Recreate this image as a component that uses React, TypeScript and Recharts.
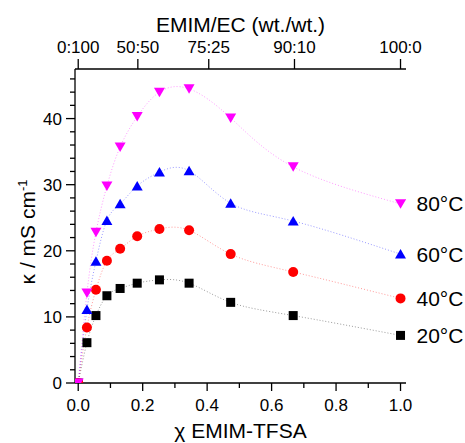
import { LineChart, Line, XAxis, YAxis } from "recharts";

// mole fraction of EMIM-TFSA
const chi = [0, 0.027, 0.055, 0.089, 0.13, 0.183, 0.252, 0.344, 0.473, 0.667, 1.0];

// conductivity, mS/cm
const k20 = [0, 6.1, 10.2, 13.2, 14.3, 15.1, 15.6, 15.1, 12.2, 10.2, 7.2];
const k40 = [0, 8.4, 14.1, 18.5, 20.3, 22.2, 23.3, 23.1, 19.5, 16.8, 12.8];
const k60 = [0, 11.1, 18.4, 24.6, 27.1, 29.8, 31.9, 32.1, 27.2, 24.5, 19.5];
const k80 = [0, 13.6, 22.8, 29.8, 35.7, 40.3, 44.0, 44.5, 40.1, 32.7, 27.1];

const seriesKeys = ["k20", "k40", "k60", "k80"];
const seriesNames = ["20°C", "40°C", "60°C", "80°C"];

const bottomTicks = [0, 0.1, 0.2, 0.3, 0.4, 0.5, 0.6, 0.7, 0.8, 0.9, 1.0];
const leftTicks = [0, 2, 4, 6, 8, 10, 12, 14, 16, 18, 20, 22, 24, 26, 28, 30, 32, 34, 36, 38, 40, 42, 44, 46];
const topTickPos = [0, 0.185, 0.405, 0.671, 1];
const topTickLabels = ["0:100", "50:50", "75:25", "90:10", "100:0"];

const data = chi.map((x, i) => ({ x, k20: k20[i], k40: k40[i], k60: k60[i], k80: k80[i] }));

const FONT = "Arial, 'Liberation Sans', sans-serif";
const colors: Record<string, string> = { k20: "#000000", k40: "#ff0000", k60: "#0000ff", k80: "#ff00ff" };
const shapes: Record<string, string> = { k20: "square", k40: "circle", k60: "up", k80: "down" };

function Marker({ cx, cy, shape, color }: any) {
  if (cx == null || cy == null) return <g />;
  if (shape === "square") return <rect x={cx - 4.5} y={cy - 4.5} width={9} height={9} fill={color} />;
  if (shape === "circle") return <circle cx={cx} cy={cy} r={5} fill={color} />;
  if (shape === "up")
    return <polygon points={`${cx - 5.5},${cy + 4.5} ${cx + 5.5},${cy + 4.5} ${cx},${cy - 5}`} fill={color} />;
  return <polygon points={`${cx - 5.5},${cy - 4.5} ${cx + 5.5},${cy - 4.5} ${cx},${cy + 5}`} fill={color} />;
}

function BottomTick({ x, y, payload }: any) {
  const v = payload.value;
  const major = Math.round(v * 10) % 2 === 0;
  return (
    <g>
      <line x1={x} y1={y} x2={x} y2={y + (major ? 8 : 5)} stroke="#000" strokeWidth={1.3} />
      {major && (
        <text x={x} y={y + 28} textAnchor="middle" fontSize={17} fontFamily={FONT} fill="#000">
          {v.toFixed(1)}
        </text>
      )}
    </g>
  );
}

function LeftTick({ x, y, payload }: any) {
  const v = payload.value;
  const major = v % 10 === 0;
  return (
    <g>
      <line x1={x} y1={y} x2={x - (major ? 9 : 5)} y2={y} stroke="#000" strokeWidth={1.3} />
      {major && (
        <text x={x - 13} y={y + 6} textAnchor="end" fontSize={17} fontFamily={FONT} fill="#000">
          {v}
        </text>
      )}
    </g>
  );
}

function TopTick({ x, y, payload }: any) {
  const i = topTickPos.indexOf(payload.value);
  return (
    <g>
      <line x1={x} y1={y} x2={x} y2={y - 10} stroke="#000" strokeWidth={1.3} />
      <text x={x} y={y - 16} textAnchor="middle" fontSize={17} fontFamily={FONT} fill="#000">
        {topTickLabels[i]}
      </text>
    </g>
  );
}

export default function App() {
  return (
    <div style={{ position: "absolute", left: 0, top: 0, background: "#fff" }}>
      <LineChart width={465} height={443} data={data} margin={{ top: 0, right: 59, bottom: 0, left: 0 }}>
        <XAxis
          dataKey="x"
          type="number"
          domain={[-0.01, 1.017]}
          ticks={bottomTicks}
          interval={0}
          allowDataOverflow
          height={60}
          tickLine={false}
          tickSize={0}
          tickMargin={0}
          axisLine={{ stroke: "#000", strokeWidth: 1.3 }}
          tick={BottomTick}
          label={(p: any) => (
            <text
              x={p.viewBox.x + p.viewBox.width / 2}
              y={p.viewBox.y + 55}
              textAnchor="middle"
              fontSize={21}
              fontFamily={FONT}
              fill="#000"
            >
              χ EMIM-TFSA
            </text>
          )}
        />
        <XAxis
          xAxisId="top"
          orientation="top"
          dataKey="x"
          type="number"
          domain={[-0.01, 1.017]}
          ticks={topTickPos}
          interval={0}
          allowDataOverflow
          height={69}
          tickLine={false}
          tickSize={0}
          tickMargin={0}
          axisLine={{ stroke: "#000", strokeWidth: 1.3 }}
          tick={TopTick}
          label={(p: any) => (
            <text
              x={p.viewBox.x + p.viewBox.width / 2}
              y={32}
              textAnchor="middle"
              fontSize={21}
              fontFamily={FONT}
              fill="#000"
            >
              EMIM/EC (wt./wt.)
            </text>
          )}
        />
        <YAxis
          type="number"
          domain={[0, 47.5]}
          ticks={leftTicks}
          interval={0}
          allowDataOverflow
          width={75}
          tickLine={false}
          tickSize={0}
          tickMargin={0}
          axisLine={{ stroke: "#000", strokeWidth: 1.3 }}
          tick={LeftTick}
          label={() => (
            <text
              transform="translate(35,232) rotate(-90)"
              textAnchor="middle"
              fontSize={21}
              fontFamily={FONT}
              fill="#000"
            >
              κ / mS cm<tspan dy={-8} fontSize={13}>-1</tspan>
            </text>
          )}
        />
        {seriesKeys.map((k, si) => (
          <Line
            key={k}
            dataKey={k}
            type="natural"
            stroke={colors[k]}
            strokeOpacity={0.4}
            strokeWidth={1}
            strokeDasharray="1 2"
            isAnimationActive={false}
            dot={(p: any) => <Marker key={`${k}-${p.index}`} cx={p.cx} cy={p.cy} shape={shapes[k]} color={colors[k]} />}
            activeDot={false}
            label={(p: any) =>
              p.index === chi.length - 1 ? (
                <text key={`l-${k}`} x={p.x + 16} y={p.y + 7.5} fontSize={21} fontFamily={FONT} fill="#000">
                  {seriesNames[si]}
                </text>
              ) : (
                <g key={`l-${k}-${p.index}`} />
              )
            }
          />
        ))}
      </LineChart>
    </div>
  );
}
